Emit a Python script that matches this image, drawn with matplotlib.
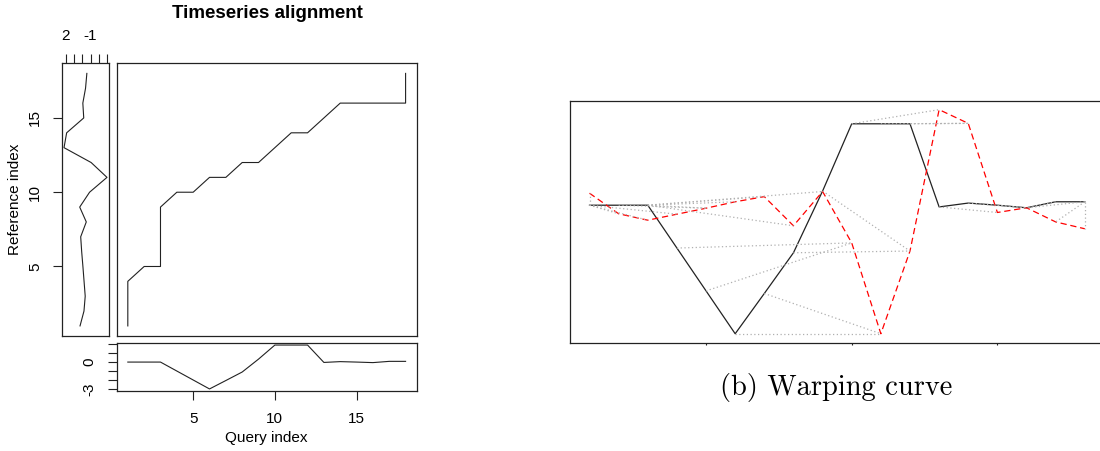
import matplotlib.pyplot as plt
import numpy as np

# query series (bottom panel / black line) and reference series (left panel / red line)
query = [0.0, 0.0, 0.0, -1.0, -2.0, -3.0, -2.06, -1.11, 0.33, 1.9, 1.9, 1.9,
         -0.04, 0.05, 0.0, -0.06, 0.08, 0.08]
reference = [0.28, -0.2, -0.35, -0.21, -0.07, 0.08, 0.2, -0.48, 0.32, -0.88,
             -3.0, -1.07, 2.23, 1.91, -0.17, -0.06, -0.39, -0.55]

# warping path (1-based indices)
path_query = [1, 1, 1, 1, 2, 3, 3, 3, 3, 3, 4, 5, 6, 7, 8, 9, 10, 11, 12, 13,
              14, 15, 16, 17, 18, 18, 18]
path_reference = [1, 2, 3, 4, 5, 5, 6, 7, 8, 9, 10, 10, 11, 11, 12, 12, 13, 14,
                  14, 15, 16, 16, 16, 16, 16, 17, 18]

ref_ticks = [2, 1, 0, -1, -2, -3]
ref_ticklabels = ['2', '', '', '-1', '', '']
query_yticks = [2, 1, 0, -1, -2, -3]
query_yticklabels = ['', '', '0', '', '', '-3']
index_ticks = [5, 10, 15]

W, H = 1100, 451
ink = '#222222'


def padded(lo, hi, f=0.04):
    d = (hi - lo) * f
    return lo - d, hi + d


def box(x0, y0, x1, y1):
    # pixel box (top-left origin) -> figure fraction rect
    return [x0 / W, 1 - y1 / H, (x1 - x0) / W, (y1 - y0) / H]


plt.rcParams['font.family'] = ['Liberation Sans', 'DejaVu Sans']
fig = plt.figure(figsize=(W / 100, H / 100), dpi=100)

idx = np.arange(1, len(query) + 1)
xlim = padded(1, len(query))
ylim = padded(1, len(reference))


def frame(ax):
    for s in ax.spines.values():
        s.set_color(ink)
        s.set_linewidth(0.9)


# ---- left: reference series, vertical
ax_ref = fig.add_axes(box(62.3, 63.3, 108.7, 336))
ax_ref.plot(reference, idx, color=ink, lw=0.8)
lo, hi = padded(min(reference), max(reference))
ax_ref.set_xlim(hi, lo)
ax_ref.set_ylim(*ylim)
ax_ref.xaxis.tick_top()
ax_ref.set_xticks(ref_ticks)
ax_ref.set_xticklabels(ref_ticklabels)
ax_ref.set_yticks(index_ticks)
ax_ref.set_yticklabels([str(t) for t in index_ticks], rotation=90, va='center')
ax_ref.tick_params(direction='out', length=6.5, width=0.8, color=ink,
                   labelsize=11, pad=8)
frame(ax_ref)

# ---- main: warping path
ax_main = fig.add_axes(box(116.7, 63.3, 416.7, 336))
ax_main.plot(path_query, path_reference, color=ink, lw=0.8)
ax_main.set_xlim(*xlim)
ax_main.set_ylim(*ylim)
ax_main.set_xticks([])
ax_main.set_yticks([])
frame(ax_main)

# ---- bottom: query series
ax_q = fig.add_axes(box(116.7, 343.3, 416.7, 390.7))
ax_q.plot(idx, query, color=ink, lw=0.8)
ax_q.set_xlim(*xlim)
ax_q.set_ylim(*padded(min(query), max(query)))
ax_q.set_xticks(index_ticks)
ax_q.set_yticks(query_yticks)
ax_q.set_yticklabels(query_yticklabels, rotation=90, va='center')
ax_q.tick_params(direction='out', length=6.5, width=0.8, color=ink,
                 labelsize=11, pad=8)
ax_q.tick_params(axis='x', pad=9)
frame(ax_q)

fig.text(267.5 / W, 1 - 14 / H, 'Timeseries alignment', fontsize=13.5,
         fontweight='bold', ha='center', va='center')
fig.text(266.7 / W, 1 - 438 / H, 'Query index', fontsize=11,
         ha='center', va='center')
fig.text(15 / W, 1 - 199.5 / H, 'Reference index', fontsize=11,
         ha='center', va='center', rotation=90)

# ---- right: two-way plot with matching lines
ax_w = fig.add_axes(box(569.7, 100.7, 1104.6, 342.7))
ax_w.plot(idx, query, color=ink, lw=0.9)
ax_w.plot(idx, reference, color='red', lw=0.9, linestyle=(0, (5, 3)))
for i, j in zip(path_query, path_reference):
    ax_w.plot([i, j], [query[i - 1], reference[j - 1]], color='#b0b0b0',
              lw=0.9, linestyle=(0, (1, 2)))
ax_w.set_xlim(*xlim)
ax_w.set_ylim(*padded(min(query + reference), max(query + reference)))
ax_w.set_xticks(index_ticks)
ax_w.set_xticklabels([])
ax_w.set_yticks([])
ax_w.tick_params(direction='out', length=1.5, width=0.8, color=ink)
frame(ax_w)

fig.text(836.5 / W, 1 - 388 / H, '(b) Warping curve', fontfamily='cmr10',
         fontsize=20.5, ha='center', va='center')

fig.savefig('out.png', dpi=100)
